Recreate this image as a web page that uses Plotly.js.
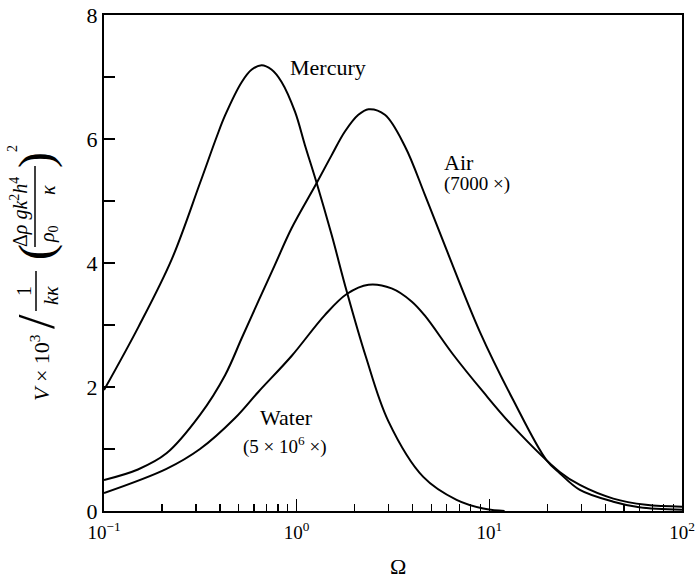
<!DOCTYPE html>
<html>
<head>
<meta charset="utf-8">
<script src="https://cdn.plot.ly/plotly-3.0.1.min.js"></script>
<style>html,body{margin:0;padding:0;background:#fff;}#chart{width:698px;height:581px;}</style>
</head>
<body>
<div id="chart"></div>
<script>
// ---- data ----
const mercuryOmega = [0.1, 0.151, 0.224, 0.315, 0.385, 0.425, 0.519, 0.585, 0.658, 0.74, 0.835, 0.98, 1.104, 1.27, 1.52, 1.82, 2.28, 2.99, 4.54, 6.76, 9.3, 12];
const mercuryV     = [1.95, 2.97, 4.05, 5.29, 6.04, 6.38, 6.92, 7.12, 7.19, 7.12, 6.92, 6.44, 5.90, 5.29, 4.45, 3.54, 2.50, 1.45, 0.55, 0.18, 0.04, 0.0];

const airOmega = [0.1, 0.15, 0.211, 0.315, 0.425, 0.519, 0.632, 0.771, 0.941, 1.27, 1.52, 1.78, 2.09, 2.36, 2.87, 3.65, 4.63, 6.0, 8.93, 13.3, 19.8, 23.2, 29.5, 44, 60, 100];
const airV     = [0.50, 0.67, 0.93, 1.55, 2.19, 2.79, 3.38, 3.97, 4.56, 5.29, 5.74, 6.12, 6.39, 6.48, 6.39, 5.88, 5.10, 4.21, 2.89, 1.79, 0.82, 0.61, 0.34, 0.15, 0.06, 0.02];

const waterOmega = [0.1, 0.211, 0.315, 0.479, 0.632, 0.941, 1.40, 1.82, 2.36, 3.11, 3.95, 4.63, 6.5, 9.3, 13.3, 23.2, 29.5, 44, 65, 100];
const waterV     = [0.29, 0.68, 1.00, 1.50, 1.92, 2.50, 3.16, 3.50, 3.65, 3.59, 3.38, 3.15, 2.52, 1.92, 1.36, 0.63, 0.42, 0.20, 0.10, 0.07];

const xTickVals = [0.1, 1, 10, 100];
const xTickText = ['10<sup>\u22121</sup>', '10<sup>0</sup>', '10<sup>1</sup>', '10<sup>2</sup>'];
const xMinorVals = [0.2,0.3,0.4,0.5,0.6,0.7,0.8,0.9, 2,3,4,5,6,7,8,9, 20,30,40,50,60,70,80,90];
const yTickVals = [0, 1, 2, 3, 4, 5, 6, 7, 8];
const yTickText = ['0', '', '2', '', '4', '', '6', '', '8'];

// ---- layout helpers ----
const W = 698, H = 581;
const M = {l: 104, r: 16, t: 15, b: 70};
const PW = W - M.l - M.r, PH = H - M.t - M.b;
const px = x => (x - M.l) / PW;
const py = y => (M.t + PH - y) / PH;
const FONT = 'Liberation Serif, Times New Roman, serif';

function lineTrace(x, y) {
  return {x: x, y: y, type: 'scatter', mode: 'lines',
    line: {color: '#000', width: 2, shape: 'spline', smoothing: 1},
    hoverinfo: 'skip', showlegend: false};
}

function ann(text, x, y, size, opts) {
  return Object.assign({text: text, xref: 'paper', yref: 'paper', x: px(x), y: py(y),
    showarrow: false, xanchor: 'center', yanchor: 'middle',
    font: {family: FONT, size: size, color: '#000'}}, opts || {});
}
function rot(text, x, y, size) {
  return ann(text, x, y, size, {textangle: -90});
}

const annotations = [
  ann('Mercury', 328, 67, 22),
  ann('Air', 442, 163, 22, {xanchor: 'left'}),
  ann('(7000 \u00d7)', 442, 184, 19, {xanchor: 'left'}),
  ann('Water', 286, 417, 22),
  ann('(5 \u00d7 10<sup>6</sup> \u00d7)', 285, 445, 19),
  // x-axis title
  ann('\u03a9', 398, 566, 22),
  // rotated y-axis title pieces
  rot('<i>V</i> \u00d7 10<sup>3</sup>', 40, 368, 22),
  rot('/', 36, 322, 52),
  rot('1', 24, 291, 20),
  rot('<i>k\u03ba</i>', 51, 296, 20),
  rot('(', 36, 252, 48),
  rot('\u0394<i>\u03c1 gk</i><sup>2</sup><i>h</i><sup>4</sup>', 19, 212, 20),
  rot('<i>\u03c1</i><sub>0</sub>', 48, 234, 20),
  rot('<i>\u03ba</i>', 48, 190, 20),
  rot(')', 36, 160, 48),
  rot('2', 12, 149, 14)
];

const shapes = [
  {type: 'line', xref: 'paper', yref: 'paper', x0: px(36), x1: px(36), y0: py(271), y1: py(311), line: {color: '#000', width: 1.5}},
  {type: 'line', xref: 'paper', yref: 'paper', x0: px(35), x1: px(35), y0: py(166), y1: py(247), line: {color: '#000', width: 1.5}}
];

const layout = {
  width: W, height: H,
  margin: M,
  paper_bgcolor: '#fff', plot_bgcolor: '#fff',
  font: {family: FONT, color: '#000'},
  showlegend: false,
  xaxis: {
    type: 'log', range: [-1, 2],
    tickvals: xTickVals, ticktext: xTickText,
    ticks: 'inside', ticklen: 12, tickwidth: 1.5, tickcolor: '#000',
    ticklabelstandoff: 3,
    minor: {tickvals: xMinorVals, ticks: 'inside', ticklen: 7, tickwidth: 1.2, tickcolor: '#000', showgrid: false},
    showgrid: false, zeroline: false,
    showline: true, linewidth: 2, linecolor: '#000', mirror: true,
    tickfont: {family: FONT, size: 19, color: '#000'}
  },
  yaxis: {
    range: [0, 8],
    tickvals: yTickVals, ticktext: yTickText,
    ticks: 'inside', ticklen: 11, tickwidth: 1.5, tickcolor: '#000',
    showgrid: false, zeroline: false,
    showline: true, linewidth: 2, linecolor: '#000', mirror: true,
    tickfont: {family: FONT, size: 22, color: '#000'}
  },
  annotations: annotations,
  shapes: shapes
};

Plotly.newPlot('chart', [
  lineTrace(mercuryOmega, mercuryV),
  lineTrace(airOmega, airV),
  lineTrace(waterOmega, waterV)
], layout, {displayModeBar: false, staticPlot: true});
</script>
</body>
</html>
